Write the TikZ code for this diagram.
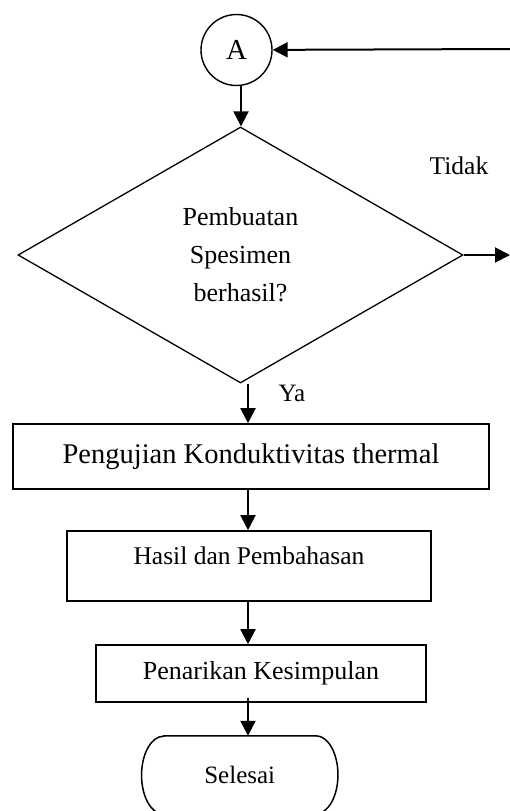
\documentclass[tikz,border=0pt]{standalone}
\usepackage{fontspec}
\setmainfont{Liberation Serif}
\usetikzlibrary{arrows.meta,shapes.geometric}
\begin{document}
\begin{tikzpicture}[x=1pt,y=-1pt,
  arr/.style={line width=2pt,-{Triangle[width=15pt,length=15pt]}},
  procbox/.style={draw,line width=1.6pt,rectangle,inner sep=0pt},
  lbl/.style={inner sep=0pt}]
\useasboundingbox (0,0) rectangle (510,811);
\clip (0,0) rectangle (510,811);
% nodes
\node[circle,draw,line width=1.4pt,minimum size=71pt,inner sep=0pt,
      font=\fontsize{29}{34}\selectfont] (A) at (236.5,50) {A};
\node[diamond,draw,line width=1.3pt,minimum width=445pt,minimum height=256pt,
      inner sep=0pt,aspect=1.74,align=center,
      font=\fontsize{26}{38}\selectfont] (dia) at (240.5,255)
      {Pembuatan\\Spesimen\\berhasil?};
\node[lbl,font=\fontsize{25.5}{30}\selectfont] (tdk) at (459,166) {Tidak};
\node[lbl,font=\fontsize{25}{30}\selectfont] (ya) at (292,393) {Ya};
\node[procbox,minimum width=476pt,minimum height=65pt,
      font=\fontsize{28.5}{34}\selectfont] (b1) at (251,456.5)
      {Pengujian Konduktivitas thermal};
\node[procbox,minimum width=364pt,minimum height=70pt,text depth=20pt,
      font=\fontsize{25.5}{30}\selectfont] (b2) at (249,566)
      {Hasil dan Pembahasan};
\node[procbox,minimum width=330pt,minimum height=57pt,
      font=\fontsize{26}{30}\selectfont] (b3) at (261,673.5)
      {Penarikan Kesimpulan};
\node[rectangle,minimum width=196pt,minimum height=78pt,inner sep=0pt,
      font=\fontsize{25}{30}\selectfont] (term) at (239.75,775) {Selesai};
\draw[line width=1.5pt]
  ([xshift=22pt]term.north west) -- ([xshift=-22pt]term.north east)
  arc[start angle=90,end angle=-90,x radius=22pt,y radius=39pt]
  -- ([xshift=22pt]term.south west)
  arc[start angle=270,end angle=90,x radius=22pt,y radius=39pt] -- cycle;
% helper coordinates
\coordinate (c1) at (241,0);
\coordinate (c2) at (248,0);
\coordinate (rin) at (510,49);
\coordinate (rout) at (510,255);
\coordinate (s3) at ([yshift=5pt]b3.south);
% connectors
\draw[arr] (rin) -- (A);
\draw[arr] (A.south -| c1) -- (dia.north -| c1);
\draw[arr] (dia.east) -- (rout);
\draw[arr] (dia.south -| c2) -- (b1.north -| c2);
\draw[arr] (b1.south -| c2) -- (b2.north -| c2);
\draw[arr] (b2.south -| c2) -- (b3.north -| c2);
\draw[arr] (s3 -| c2) -- (term.north -| c2);
\end{tikzpicture}
\end{document}
